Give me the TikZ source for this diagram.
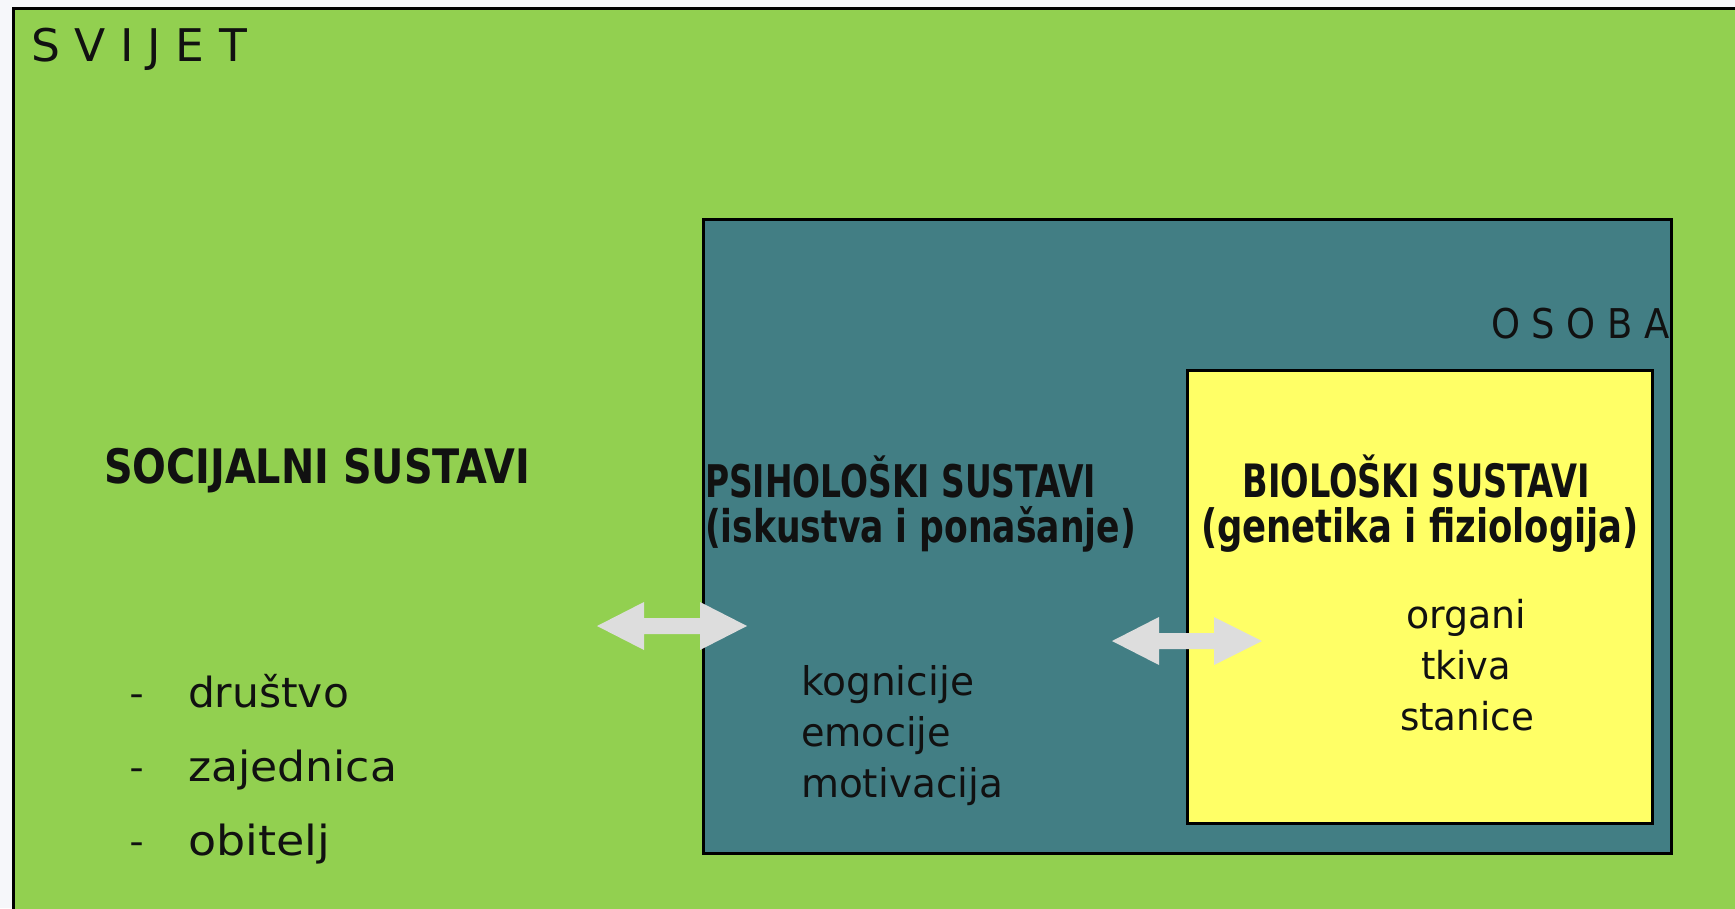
\documentclass[tikz,border=0pt]{standalone}
\usepackage{fontspec}
\setmainfont{DejaVu Sans}
\newfontfamily\condfont{DejaVu Sans Condensed}
\definecolor{worldgreen}{RGB}{146,208,80}
\definecolor{personteal}{RGB}{66,126,132}
\definecolor{bioyellow}{RGB}{255,255,102}
\definecolor{arrowgray}{RGB}{221,221,221}
\definecolor{ink}{RGB}{17,17,17}
\definecolor{pagebg}{RGB}{246,247,250}
\tikzset{
  txt/.style={inner sep=0pt, outer sep=0pt, text=ink},
  boxline/.style={draw=black, line width=3pt},
  blockarrow/.style={fill=arrowgray, draw=none},
}
\newcommand\fitw[2]{\resizebox{#1pt}{\height}{#2}}
\begin{document}
\begin{tikzpicture}[x=1pt,y=-1pt]
\useasboundingbox (0,0) rectangle (1735,908);
\clip (0,0) rectangle (1735,908);
\fill[pagebg] (0,0) rectangle (1735,908);
% world
\path[boxline, fill=worldgreen] (13,8) rectangle (1760,930);
\node[txt, anchor=base west] (svijet) at (31,61) {\fontsize{45}{54}\selectfont\fitw{216}{S V I J E T}};
% person
\node[boxline, fill=personteal, minimum width=968pt, minimum height=634pt, inner sep=0pt, anchor=north west] (osoba) at (702,218) {};
\node[txt, anchor=base east] (osobalbl) at (1670,338) {\fontsize{41}{49}\selectfont\fitw{179}{O S O B A}};
% biology
\node[boxline, fill=bioyellow, minimum width=465pt, minimum height=453pt, inner sep=0pt, anchor=north west] (bio) at (1186,369) {};
% social texts
\node[txt, anchor=base west] (soc) at (104,483) {\fontsize{47.5}{57}\selectfont\condfont\bfseries\fitw{426}{SOCIJALNI SUSTAVI}};
\node[txt, anchor=base] (d1) at (137,707) {\fontsize{41}{49}\selectfont\fitw{13}{–}};
\node[txt, anchor=base] (d2) at (137,781) {\fontsize{41}{49}\selectfont\fitw{13}{–}};
\node[txt, anchor=base] (d3) at (137,855) {\fontsize{41}{49}\selectfont\fitw{13}{–}};
\node[txt, anchor=base west] (drustvo) at (188,707) {\fontsize{41.5}{50}\selectfont\fitw{161}{društvo}};
\node[txt, anchor=base west] (zajednica) at (188,781) {\fontsize{41.5}{50}\selectfont\fitw{209}{zajednica}};
\node[txt, anchor=base west] (obitelj) at (188,855) {\fontsize{41.5}{50}\selectfont\fitw{142}{obitelj}};
% psychological texts
\node[txt, anchor=base west] (psi1) at (705,497) {\fontsize{45}{54}\selectfont\condfont\bfseries\fitw{391}{PSIHOLOŠKI SUSTAVI}};
\node[txt, anchor=base west] (psi2) at (705,542) {\fontsize{45}{54}\selectfont\condfont\bfseries\fitw{431}{(iskustva i ponašanje)}};
\node[txt, anchor=base west] (kog) at (801,695) {\fontsize{39.5}{47}\selectfont\fitw{173}{kognicije}};
\node[txt, anchor=base west] (emo) at (801,746) {\fontsize{39.5}{47}\selectfont\fitw{150}{emocije}};
\node[txt, anchor=base west] (mot) at (801,797) {\fontsize{39.5}{47}\selectfont\fitw{202}{motivacija}};
% biological texts
\node[txt, anchor=base] (bio1) at (1416,497) {\fontsize{46}{55}\selectfont\condfont\bfseries\fitw{347}{BIOLOŠKI SUSTAVI}};
\node[txt, anchor=base] (bio2) at (1420,542) {\fontsize{46}{55}\selectfont\condfont\bfseries\fitw{438}{(genetika i fiziologija)}};
\node[txt, anchor=base] (org) at (1466,628) {\fontsize{38.5}{46}\selectfont\fitw{120}{organi}};
\node[txt, anchor=base] (tkiva) at (1466,679) {\fontsize{38.5}{46}\selectfont\fitw{90}{tkiva}};
\node[txt, anchor=base] (stanice) at (1467,730) {\fontsize{38.5}{46}\selectfont\fitw{134}{stanice}};
% block arrows
\fill[blockarrow] (597,626) -- (644,602) -- (644,618) -- (700,618) -- (700,602) -- (747,626)
  -- (700,650) -- (700,634) -- (644,634) -- (644,650) -- cycle;
\fill[blockarrow] (1112,641) -- (1159,617) -- (1159,633) -- (1214,633) -- (1214,617) -- (1262,641)
  -- (1214,665) -- (1214,649) -- (1159,649) -- (1159,665) -- cycle;
\end{tikzpicture}
\end{document}
